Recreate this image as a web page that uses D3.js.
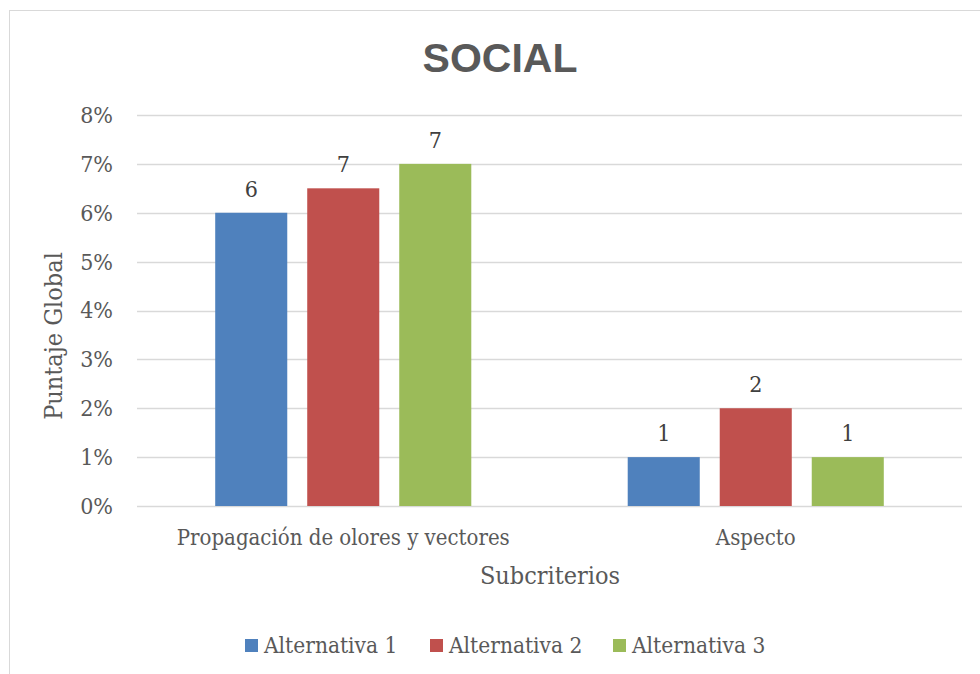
<!DOCTYPE html>
<html>
<head>
<meta charset="utf-8">
<script src="https://cdn.jsdelivr.net/npm/d3@7"></script>
<style>
  html, body { margin: 0; padding: 0; background: #fff; }
  svg { display: block; }
</style>
</head>
<body>
<svg id="chart" width="980" height="674"></svg>
<script>
// Subcriteria on the x axis
const categories = ["Propagación de olores y vectores", "Aspecto"];
// Alternatives (series)
const seriesNames = ["Alternativa 1", "Alternativa 2", "Alternativa 3"];
const seriesColors = ["#4F81BD", "#C0504D", "#9BBB59"];
// Global score (%) per subcriterion, one array per alternative
const alt1 = [6, 1];
const alt2 = [6.5, 2];
const alt3 = [7, 1];
const seriesValues = [alt1, alt2, alt3];
// Y axis ticks (%)
const yTicks = [0, 1, 2, 3, 4, 5, 6, 7, 8];

const serif = "'DejaVu Serif Condensed', 'DejaVu Serif', serif";
const textColor = "#595959";

const svg = d3.select("#chart");

// Chart frame
svg.append("rect")
  .attr("x", 9.5).attr("y", 10.5)
  .attr("width", 990).attr("height", 700)
  .attr("fill", "#fff")
  .attr("stroke", "#D9D9D9").attr("stroke-width", 1);

// Title
svg.append("text")
  .attr("x", 500).attr("y", 72)
  .attr("text-anchor", "middle")
  .attr("font-family", "'Liberation Sans Narrow', 'Arial Narrow', 'Liberation Sans', sans-serif")
  .attr("font-weight", "bold")
  .attr("font-size", 41)
  .attr("fill", textColor)
  .text("SOCIAL");

const plot = { left: 137, right: 962, top: 115, bottom: 506 };

const y = d3.scaleLinear().domain([0, 8]).range([plot.bottom, plot.top]);
const x0 = d3.scaleBand().domain(categories).range([plot.left, plot.right]).padding(0);
const x1 = d3.scaleBand().domain(seriesNames).range([0, x0.bandwidth()])
  .paddingInner(0.217).paddingOuter(0.85);

// Gridlines
const grid = svg.append("g");
grid.selectAll("line").data(yTicks).join("line")
  .attr("x1", plot.left).attr("x2", plot.right)
  .attr("y1", d => Math.round(y(d)) + 0.5).attr("y2", d => Math.round(y(d)) + 0.5)
  .attr("stroke", "#D9D9D9").attr("stroke-width", 1.5);

// Y axis (labels only)
const yAxis = d3.axisLeft(y).tickValues(yTicks).tickFormat(d => d + "%").tickSize(0).tickPadding(0);
const yg = svg.append("g").attr("transform", `translate(${plot.left - 24},0)`).call(yAxis);
yg.select(".domain").remove();
yg.selectAll("text")
  .attr("font-family", serif).attr("font-size", 23).attr("fill", textColor);

// Bars
const groups = svg.append("g").selectAll("g").data(categories).join("g")
  .attr("transform", d => `translate(${x0(d)},0)`);

groups.selectAll("rect")
  .data((c, ci) => seriesNames.map((s, si) => ({ s, si, v: seriesValues[si][ci] })))
  .join("rect")
  .attr("x", d => x1(d.s))
  .attr("width", x1.bandwidth())
  .attr("y", d => y(d.v))
  .attr("height", d => y(0) - y(d.v))
  .attr("fill", d => seriesColors[d.si]);

// Data labels (rounded to whole numbers)
groups.selectAll("text")
  .data((c, ci) => seriesNames.map((s, si) => ({ s, si, v: seriesValues[si][ci] })))
  .join("text")
  .attr("x", d => x1(d.s) + x1.bandwidth() / 2)
  .attr("y", d => y(d.v) - 16)
  .attr("text-anchor", "middle")
  .attr("font-family", serif).attr("font-size", 23)
  .attr("fill", "#404040")
  .text(d => d3.format(".0f")(d.v));

// Category labels
const xAxis = d3.axisBottom(x0).tickSize(0).tickPadding(0);
const xg = svg.append("g").attr("transform", `translate(0,${plot.bottom + 39})`).call(xAxis);
xg.select(".domain").remove();
xg.selectAll("text")
  .attr("dy", 0)
  .attr("font-family", serif).attr("font-size", 22).attr("fill", textColor);

// Axis titles
svg.append("text")
  .attr("x", 550).attr("y", 584)
  .attr("text-anchor", "middle")
  .attr("font-family", serif).attr("font-size", 25).attr("fill", textColor)
  .text("Subcriterios");

svg.append("text")
  .attr("transform", "translate(62,336) rotate(-90)")
  .attr("text-anchor", "middle")
  .attr("font-family", serif).attr("font-size", 25).attr("fill", textColor)
  .text("Puntaje Global");

// Legend
const legendX = [245, 430, 613];
const legend = svg.append("g").selectAll("g").data(seriesNames).join("g")
  .attr("transform", (d, i) => `translate(${legendX[i]},645)`);
legend.append("rect")
  .attr("x", 0).attr("y", -6).attr("width", 13).attr("height", 13)
  .attr("fill", (d, i) => seriesColors[i]);
legend.append("text")
  .attr("x", 19).attr("y", 8)
  .attr("font-family", serif).attr("font-size", 22.5).attr("fill", textColor)
  .text(d => d);
</script>
</body>
</html>
